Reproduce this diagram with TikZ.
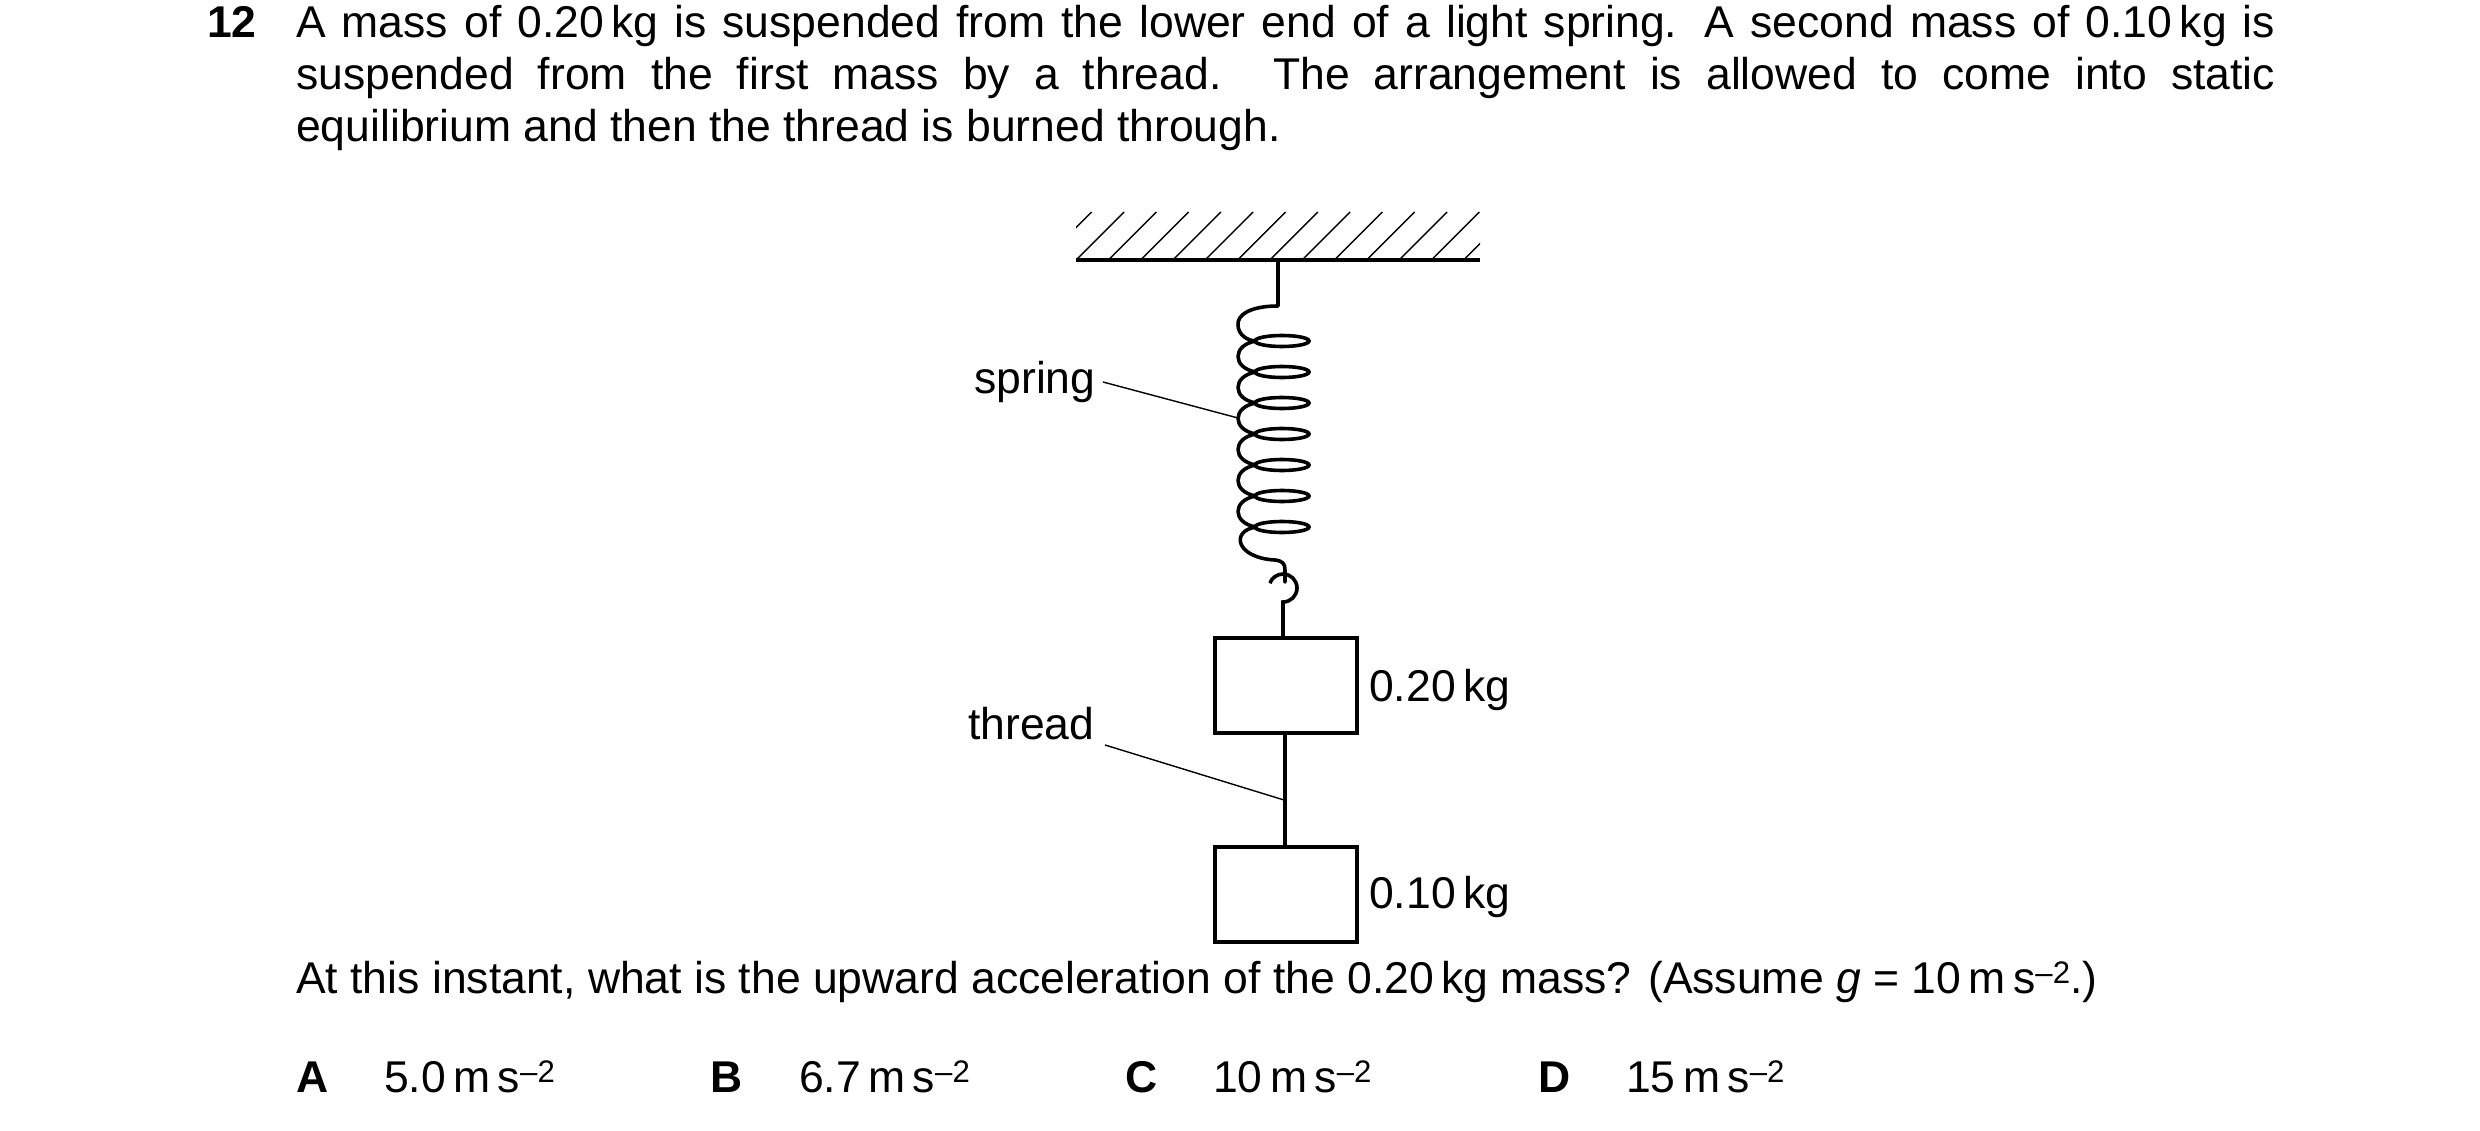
\documentclass[tikz,border=0pt]{standalone}
\usepackage{fontspec}
\setmainfont{Liberation Sans}
\begin{document}
\begin{tikzpicture}[x=1pt,y=-1pt,
  thick/.style={line width=3.6pt,line join=miter},
  thin/.style={line width=1.4pt},
  lbl/.style={inner sep=0pt,anchor=base west,font=\fontsize{44.5}{52}\selectfont}]
\useasboundingbox (0,0) rectangle (2480,1131);
% text
\node[lbl] (num) at (207,38) {\textbf{12}};
\node[lbl] (para) at (296,38) {\parbox[t]{1979pt}{\fontsize{44.5}{52}\selectfont
A mass of 0.20\,kg is suspended from the lower end of a light spring. A second mass of 0.10\,kg is\linebreak
suspended from the first mass by a thread. The arrangement is allowed to come into static\linebreak
equilibrium and then the thread is burned through.}};
\node[lbl] (q) at (296,993) {At this instant, what is the upward acceleration of the 0.20\,kg mass? (Assume \textit{g} = 10\,m\,s\textsuperscript{–2}.)};
\node[lbl] (oA) at (296,1092) {\textbf{A}};
\node[lbl] (vA) at (384,1092) {5.0\,m\,s\textsuperscript{–2}};
\node[lbl] (oB) at (710,1092) {\textbf{B}};
\node[lbl] (vB) at (799,1092) {6.7\,m\,s\textsuperscript{–2}};
\node[lbl] (oC) at (1125,1092) {\textbf{C}};
\node[lbl] (vC) at (1213,1092) {10\,m\,s\textsuperscript{–2}};
\node[lbl] (oD) at (1538,1092) {\textbf{D}};
\node[lbl] (vD) at (1626,1092) {15\,m\,s\textsuperscript{–2}};
% ceiling
\begin{scope}
\clip (1076,212) rectangle (1480,262);
\foreach \k in {0,...,13}{
  \draw[thin] ({1043.7+32.3*\k},260) -- ++(48,-48);}
\end{scope}
\draw[thick] (1076,260) -- (1480,260);
% spring
\draw[thick,line join=round,line cap=round] (1278,260) -- (1278,306)
  .. controls (1250,306) and (1237,315) .. (1238,325)
  .. controls (1238,335) and (1248,341) .. (1256,341)
  \foreach \i in {0,...,5}{
   .. controls (1232,{341+31*\i+4}) and (1232,{341+31*(\i+1)-4}) .. (1256,{341+31*(\i+1)})}
  .. controls (1230,531) and (1236,558) .. (1275,560)
  .. controls (1283,561) and (1285,564) .. (1285,570) -- (1285,582);
\foreach \i in {0,...,6}{
  \draw[thick] (1282,{341+31*\i}) ellipse [x radius=27,y radius=5.5];}
\draw[thick] (1283,636) -- (1283,602) arc[start angle=90,end angle=-160,radius=14];
% masses
\node[draw,thick,minimum width=142pt,minimum height=95pt,inner sep=0pt,anchor=north west] (m1) at (1213,636) {};
\node[draw,thick,minimum width=142pt,minimum height=95pt,inner sep=0pt,anchor=north west] (m2) at (1213,845) {};
\draw[thick] (1285,731) -- (1285,845);
\node[lbl] (l1) at (1369,701) {0.20\,kg};
\node[lbl] (l2) at (1369,908) {0.10\,kg};
% leaders
\node[lbl] (sp) at (974,393) {spring};
\coordinate (spt) at (1238,418);
\draw[thin] (1103,382) -- (spt);
\node[lbl] (th) at (968,739) {thread};
\coordinate (tht) at (1284,800);
\draw[thin] (1105,745) -- (tht);
\end{tikzpicture}
\end{document}
